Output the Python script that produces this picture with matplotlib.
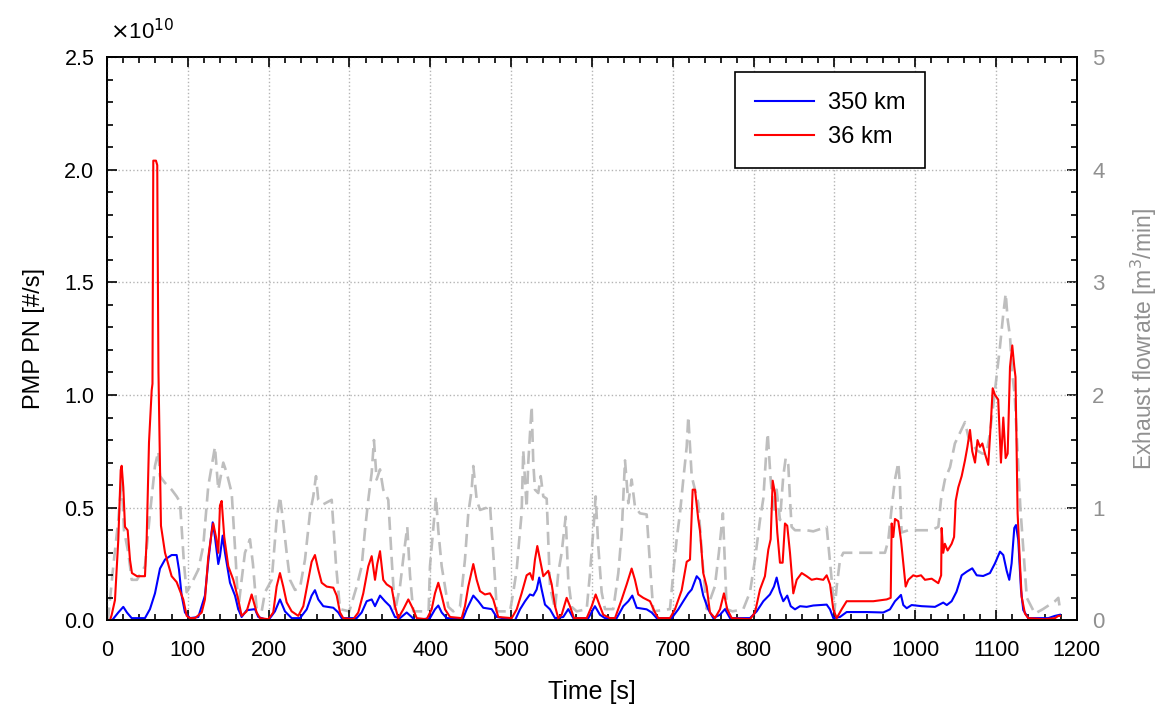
import matplotlib
matplotlib.use("Agg")
import matplotlib.pyplot as plt
from matplotlib.ticker import MultipleLocator, FormatStrFormatter

# ---------------- data ----------------
# PMP particle number rate, units of 1e10 #/s, (time s, value)
pn_36km = [
    (0, 0), (3.7, 0), (5.8, 0.024), (9.9, 0.09), (14.0, 0.357), (17.0, 0.667), (18.2, 0.686),
    (20.2, 0.59), (22.3, 0.415), (25.6, 0.40), (28.5, 0.268), (30.9, 0.21), (37.1, 0.196),
    (47.0, 0.196), (49.1, 0.36), (52.0, 0.79), (55.3, 1.02), (56.3, 1.05), (57.3, 2.04),
    (60.6, 2.04), (62.2, 2.02), (62.7, 1.68), (63.7, 1.10), (66.8, 0.42), (71.8, 0.30),
    (80.0, 0.196), (86.2, 0.17), (94.4, 0.093), (98.6, 0.02), (102.7, 0.01), (108.9, 0.01),
    (117.2, 0.035), (121.2, 0.093), (125.3, 0.28), (129.5, 0.39), (131.5, 0.43), (134.9, 0.37),
    (137.7, 0.30), (139.8, 0.51), (141.9, 0.53), (145.1, 0.37), (150.1, 0.24), (156.3, 0.18),
    (162.4, 0.093), (166.6, 0.02), (172.8, 0.04), (179.0, 0.115), (185.2, 0.035), (189.3, 0.01),
    (199.6, 0.005), (205.7, 0.035), (209.9, 0.15), (214.0, 0.21), (218.1, 0.15), (222.3, 0.08),
    (228.5, 0.04), (236.7, 0.02), (242.9, 0.063), (249.0, 0.18), (253.2, 0.26), (257.3, 0.29),
    (261.4, 0.225), (265.6, 0.167), (271.8, 0.15), (280.0, 0.145), (284.2, 0.11), (288.3, 0.035),
    (292.3, 0.01), (304.7, 0.005), (310.9, 0.035), (317.1, 0.12), (323.3, 0.24), (327.5, 0.285),
    (331.6, 0.18), (334.4, 0.25), (337.8, 0.307), (341.8, 0.18), (346.0, 0.16), (352.2, 0.145),
    (356.3, 0.063), (360.4, 0.01), (366.6, 0.049), (372.8, 0.093), (378.9, 0.049), (383.2, 0.01),
    (395.5, 0.005), (401.7, 0.049), (405.8, 0.12), (409.9, 0.167), (414.1, 0.11), (418.2, 0.049),
    (424.4, 0.015), (438.8, 0.01), (442.9, 0.063), (447.0, 0.15), (453.2, 0.25), (457.4, 0.18),
    (461.5, 0.13), (467.6, 0.115), (473.8, 0.12), (477.9, 0.093), (484.1, 0.015), (500.7, 0.01),
    (506.9, 0.049), (513.0, 0.12), (519.2, 0.20), (523.3, 0.21), (526.7, 0.18), (529.5, 0.27),
    (532.4, 0.33), (535.7, 0.27), (539.8, 0.196), (546.0, 0.22), (550.2, 0.16), (554.3, 0.063),
    (558.3, 0.01), (562.5, 0.025), (568.7, 0.10), (572.8, 0.063), (577.8, 0.01), (593.5, 0.01),
    (599.7, 0.063), (604.6, 0.115), (609.9, 0.063), (614.0, 0.025), (622.3, 0.01), (628.5, 0.01),
    (636.8, 0.093), (643.0, 0.16), (649.1, 0.23), (653.2, 0.18), (657.3, 0.115), (663.5, 0.10),
    (671.8, 0.085), (678.0, 0.035), (682.1, 0.01), (696.5, 0.01), (702.7, 0.049), (711.0, 0.134),
    (717.2, 0.26), (721.3, 0.27), (724.6, 0.58), (727.5, 0.58), (731.5, 0.45), (733.6, 0.40),
    (737.7, 0.21), (741.9, 0.15), (746.0, 0.035), (752.2, 0.01), (758.4, 0.049), (763.3, 0.12),
    (767.4, 0.049), (772.9, 0.01), (795.5, 0.005), (801.7, 0.035), (807.9, 0.137), (814.0, 0.196),
    (818.2, 0.314), (821.1, 0.36), (823.6, 0.62), (826.4, 0.565), (829.3, 0.39), (832.6, 0.256),
    (835.9, 0.256), (838.8, 0.43), (841.6, 0.42), (845.0, 0.30), (849.1, 0.12), (853.3, 0.18),
    (859.5, 0.21), (865.6, 0.196), (871.8, 0.18), (878.0, 0.185), (886.2, 0.18), (890.4, 0.20),
    (894.5, 0.16), (898.6, 0.049), (902.8, 0.01), (908.9, 0.049), (915.1, 0.085), (931.6, 0.085),
    (948.1, 0.085), (964.6, 0.093), (969.6, 0.10), (970.8, 0.43), (972.8, 0.37), (974.9, 0.45),
    (979.0, 0.44), (982.3, 0.357), (985.2, 0.253), (988.1, 0.15), (991.4, 0.18), (997.5, 0.20),
    (1001.6, 0.195), (1007.1, 0.20), (1012.0, 0.18), (1020.3, 0.185), (1028.5, 0.165),
    (1032.0, 0.20), (1032.6, 0.41), (1034.6, 0.30), (1036.6, 0.34), (1040.0, 0.31), (1045.0, 0.34),
    (1048.0, 0.37), (1050.0, 0.53), (1053.2, 0.59), (1057.4, 0.64), (1061.5, 0.71), (1064.5, 0.77),
    (1067.7, 0.845), (1070.5, 0.75), (1073.9, 0.70), (1077.0, 0.80), (1080.0, 0.77), (1083.0, 0.785),
    (1086.2, 0.74), (1090.3, 0.69), (1093.7, 0.89), (1095.8, 1.03), (1098.6, 1.00), (1102.6, 0.98),
    (1106.0, 0.70), (1108.9, 0.90), (1111.8, 0.72), (1114.3, 0.74), (1117.2, 1.125), (1120.0, 1.22),
    (1122.5, 1.125), (1124.0, 1.08), (1125.4, 0.77), (1126.6, 0.475), (1129.5, 0.253),
    (1131.6, 0.105), (1135.7, 0.03), (1139.8, 0.01), (1160.5, 0.005), (1172.8, 0.01),
    (1177.0, 0.02), (1179.0, 0.02),
]

pn_350km = [
    (0, 0), (6.2, 0), (14.0, 0.035), (20.2, 0.06), (24.7, 0.035), (30.6, 0.01), (47.0, 0.01),
    (53.2, 0.05), (59.4, 0.12), (65.6, 0.23), (71.8, 0.27), (80.0, 0.29), (86.2, 0.29),
    (89.1, 0.225), (92.4, 0.11), (96.5, 0.035), (102.7, 0.01), (113.0, 0.015), (121.2, 0.11),
    (125.3, 0.26), (130.8, 0.435), (133.6, 0.37), (137.7, 0.25), (139.8, 0.285), (143.1, 0.376),
    (146.0, 0.30), (152.2, 0.167), (158.4, 0.11), (162.4, 0.05), (166.6, 0.015), (172.8, 0.045),
    (183.1, 0.05), (187.2, 0.015), (199.6, 0.0), (207.8, 0.04), (214.0, 0.093), (220.2, 0.04),
    (228.5, 0.01), (238.8, 0.01), (247.1, 0.049), (253.2, 0.11), (257.3, 0.134), (261.4, 0.093),
    (267.6, 0.063), (280.0, 0.056), (286.2, 0.035), (290.4, 0.01), (308.9, 0.01), (315.1, 0.035),
    (321.3, 0.085), (327.5, 0.093), (331.6, 0.063), (337.8, 0.11), (343.9, 0.085), (350.1, 0.063),
    (356.3, 0.015), (362.5, 0.01), (370.8, 0.035), (377.0, 0.015), (381.0, 0.0), (399.6, 0.01),
    (405.8, 0.049), (409.9, 0.066), (414.1, 0.035), (420.3, 0.01), (440.8, 0.01), (445.0, 0.049),
    (453.2, 0.11), (459.4, 0.085), (465.5, 0.056), (475.9, 0.05), (482.1, 0.015), (504.8, 0.0),
    (511.0, 0.049), (517.2, 0.085), (523.3, 0.115), (527.4, 0.11), (531.6, 0.137), (534.8, 0.19),
    (537.8, 0.137), (541.9, 0.07), (548.1, 0.049), (554.3, 0.01), (564.5, 0.015), (570.7, 0.05),
    (576.9, 0.01), (595.5, 0.01), (603.7, 0.063), (609.9, 0.025), (616.1, 0.01), (630.6, 0.01),
    (638.8, 0.063), (645.0, 0.085), (649.9, 0.11), (655.3, 0.056), (667.7, 0.049), (673.9, 0.035),
    (680.1, 0.01), (698.6, 0.01), (706.8, 0.049), (713.0, 0.085), (719.2, 0.12), (723.4, 0.137),
    (729.6, 0.196), (733.6, 0.18), (737.7, 0.11), (743.9, 0.049), (750.1, 0.01), (758.4, 0.025),
    (764.6, 0.05), (770.8, 0.01), (795.5, 0.01), (803.8, 0.04), (812.0, 0.085), (820.2, 0.115),
    (825.2, 0.15), (828.5, 0.19), (832.6, 0.125), (836.7, 0.085), (841.6, 0.11), (845.9, 0.063),
    (851.2, 0.049), (857.4, 0.063), (865.6, 0.06), (873.8, 0.066), (890.4, 0.07), (894.5, 0.049),
    (898.6, 0.01), (906.8, 0.015), (915.1, 0.037), (939.9, 0.037), (960.4, 0.035), (968.7, 0.049),
    (974.9, 0.085), (979.0, 0.10), (982.3, 0.113), (985.2, 0.068), (989.4, 0.054), (995.5, 0.068),
    (1008.0, 0.063), (1024.4, 0.06), (1034.6, 0.079), (1039.0, 0.068), (1045.0, 0.085),
    (1051.0, 0.127), (1057.4, 0.20), (1063.6, 0.216), (1070.5, 0.231), (1076.0, 0.20),
    (1084.0, 0.197), (1092.4, 0.21), (1098.6, 0.253), (1104.8, 0.305), (1108.9, 0.29),
    (1113.1, 0.22), (1116.3, 0.18), (1119.2, 0.253), (1122.5, 0.41), (1124.6, 0.423),
    (1127.4, 0.357), (1130.8, 0.135), (1133.6, 0.046), (1139.8, 0.01), (1164.6, 0.01),
    (1172.8, 0.02), (1179.0, 0.025),
]

# exhaust flow rate, m3/min, (time s, value)
exhaust_flow = [
    (0, 0), (1.6, 0.03), (7.8, 0.48), (14.0, 0.89), (18.2, 1.25), (21.0, 0.8), (26.4, 0.6),
    (30.6, 0.36), (37.1, 0.36), (47.0, 0.48), (53.2, 0.95), (59.4, 1.37), (63.5, 1.5), (65.6, 1.28),
    (71.8, 1.22), (80.0, 1.16), (86.2, 1.1), (90.3, 1.05), (95.3, 0.5), (98.6, 0.25), (104.8, 0.33),
    (113.0, 0.45), (119.1, 0.66), (125.3, 1.19), (133.6, 1.54), (137.7, 1.16), (143.9, 1.40),
    (148.1, 1.31), (154.3, 1.13), (159.6, 0.5), (162.4, 0.1), (166.6, 0.36), (170.7, 0.6),
    (176.9, 0.72), (180.6, 0.5), (185.2, 0.1), (191.4, 0.08), (195.5, 0.25), (203.8, 0.36),
    (209.9, 0.89), (214.0, 1.1), (218.1, 0.87), (222.3, 0.6), (226.4, 0.36), (232.6, 0.27),
    (238.8, 0.29), (245.0, 0.54), (251.1, 0.95), (255.2, 1.1), (258.6, 1.28), (261.4, 1.07),
    (267.6, 1.03), (278.0, 1.07), (283.3, 0.5), (288.3, 0.1), (299.8, 0.08), (308.9, 0.3),
    (315.1, 0.48), (319.2, 0.8), (323.3, 1.07), (327.5, 1.31), (330.3, 1.6), (333.6, 1.25),
    (337.8, 1.34), (341.8, 1.16), (348.0, 1.07), (352.6, 0.5), (356.3, 0.08), (362.5, 0.3),
    (367.4, 0.6), (371.5, 0.83), (374.9, 0.4), (378.9, 0.08), (397.9, 0.08), (399.6, 0.48),
    (404.6, 0.89), (407.0, 1.1), (409.9, 0.8), (414.1, 0.48), (418.2, 0.3), (422.3, 0.12),
    (428.4, 0.08), (436.7, 0.12), (442.9, 0.54), (447.0, 0.95), (451.2, 1.16), (453.2, 1.37),
    (457.4, 1.07), (461.5, 0.98), (469.8, 1.0), (473.8, 1.03), (478.8, 0.5), (482.5, 0.08),
    (498.6, 0.08), (502.7, 0.25), (506.9, 0.45), (510.1, 0.72), (513.0, 0.95), (515.0, 1.51),
    (519.2, 1.0), (521.2, 1.4), (525.4, 1.9), (527.4, 1.4), (529.5, 1.16), (533.6, 1.13),
    (536.6, 1.28), (539.8, 1.1), (544.0, 1.08), (548.1, 0.3), (554.3, 0.1), (558.3, 0.42),
    (562.5, 0.6), (567.5, 0.92), (570.7, 0.36), (574.9, 0.12), (581.1, 0.08), (593.5, 0.1),
    (597.6, 0.42), (601.7, 0.8), (604.6, 1.1), (607.8, 0.66), (612.0, 0.25), (616.1, 0.1),
    (626.4, 0.1), (632.6, 0.42), (636.8, 0.78), (640.9, 1.42), (645.0, 1.04), (649.1, 1.25),
    (653.2, 1.01), (659.4, 0.95), (667.7, 0.94), (671.8, 0.5), (675.9, 0.08), (696.5, 0.1),
    (700.6, 0.42), (704.8, 0.72), (708.9, 0.95), (713.0, 1.25), (717.2, 1.54), (719.2, 1.81),
    (723.4, 1.28), (731.5, 1.04), (737.0, 0.5), (742.0, 0.1), (752.0, 0.3), (757.0, 0.6),
    (762.0, 0.95), (766.7, 0.1), (774.0, 0.08), (787.2, 0.1), (795.5, 0.25), (801.7, 0.54),
    (807.9, 0.89), (812.0, 1.08), (815.3, 1.45), (817.4, 1.66), (821.1, 1.25), (825.0, 0.95),
    (828.5, 1.16), (832.6, 0.89), (836.7, 1.28), (839.7, 1.44), (842.9, 1.38), (845.0, 1.08),
    (847.0, 0.83), (851.2, 0.8), (865.6, 0.8), (873.8, 0.79), (886.2, 0.82), (890.4, 0.83),
    (896.6, 0.36), (900.0, 0.08), (902.8, 0.3), (906.9, 0.54), (911.0, 0.6), (931.6, 0.6),
    (948.0, 0.6), (962.5, 0.6), (966.6, 0.71), (970.8, 1.0), (974.9, 1.25), (979.0, 1.4),
    (981.0, 1.2), (983.0, 0.78), (991.4, 0.8), (1020.0, 0.8), (1028.5, 0.83), (1031.8, 1.07),
    (1036.7, 1.25), (1043.0, 1.36), (1049.0, 1.57), (1055.0, 1.66), (1061.5, 1.76),
    (1065.6, 1.63), (1069.8, 1.57), (1076.0, 1.51), (1083.0, 1.48), (1088.0, 1.48),
    (1092.4, 1.66), (1098.6, 2.04), (1104.8, 2.43), (1108.9, 2.72), (1111.9, 2.9), (1114.3, 2.67),
    (1117.2, 2.52), (1120.0, 2.19), (1123.0, 2.0), (1130.0, 1.0), (1138.0, 0.2), (1148.0, 0.06),
    (1158.0, 0.1), (1166.6, 0.14), (1172.8, 0.17), (1177.0, 0.2), (1179.0, 0.1),
]

series_labels = ["350 km", "36 km"]
series_colors = ["#0000FF", "#FF0000"]
flow_color = "#BEBEBE"
right_text_color = "#909090"

# ---------------- figure ----------------
plt.rcParams["font.family"] = ["Liberation Sans", "DejaVu Sans"]
fig = plt.figure(figsize=(11.64, 7.13), dpi=100)
ax = fig.add_axes([0.0919, 0.1299, 0.8333, 0.7902])
ax2 = ax.twinx()

ft, fv = zip(*exhaust_flow)
ax2.plot(ft, fv, color=flow_color, lw=1.9, ls=(0, (5, 2.6)))

ax.set_zorder(ax2.get_zorder() + 1)
ax.patch.set_visible(False)

for data, lab, col in zip([pn_350km, pn_36km], series_labels, series_colors):
    t, v = zip(*data)
    ax.plot(t, v, color=col, lw=1.5, label=lab)

ax.set_xlim(0, 1200)
ax.set_ylim(0, 2.5)
ax2.set_ylim(0, 5)

ax.xaxis.set_major_locator(MultipleLocator(100))
ax.xaxis.set_minor_locator(MultipleLocator(20))
ax.yaxis.set_major_locator(MultipleLocator(0.5))
ax.yaxis.set_minor_locator(MultipleLocator(0.1))
ax.yaxis.set_major_formatter(FormatStrFormatter("%.1f"))
ax2.yaxis.set_major_locator(MultipleLocator(1))
ax2.yaxis.set_minor_locator(MultipleLocator(0.2))

ax.tick_params(which="both", direction="in", top=True, right=False, labelsize=15.5, width=1.2)
ax.tick_params(axis="x", which="major", pad=14)
ax.tick_params(axis="y", which="major", pad=9)
ax.tick_params(which="major", length=7)
ax.tick_params(which="minor", length=4)
ax2.tick_params(which="both", direction="in", labelsize=16, width=1.2,
                labelcolor=right_text_color)
ax2.tick_params(which="major", length=7, pad=11)
ax2.tick_params(which="minor", length=4)

ax.grid(True, which="major", ls=":", color="#B4B4B4", lw=1.0)

for sp in ax.spines.values():
    sp.set_linewidth(1.3)
for sp in ax2.spines.values():
    sp.set_linewidth(1.3)

ax.set_xlabel("Time [s]", fontsize=18, labelpad=14)
ax.set_ylabel("PMP PN [#/s]", fontsize=17, labelpad=14)
ax2.set_ylabel("Exhaust flowrate [m$^3$/min]", fontsize=16.5, color=right_text_color,
               labelpad=17)

ax.text(0.003, 1.022, r"$\times$10$^{10}$", transform=ax.transAxes, fontsize=16,
        ha="left", va="bottom")

leg = ax.legend(loc="upper left", bbox_to_anchor=(0.647, 0.973), borderaxespad=0,
                fancybox=False, edgecolor="black", fontsize=17, handlelength=2.5,
                labelspacing=0.5, borderpad=0.85, handletextpad=0.6, framealpha=1)
leg.get_frame().set_linewidth(1.2)

fig.savefig("out.png", dpi=100)
